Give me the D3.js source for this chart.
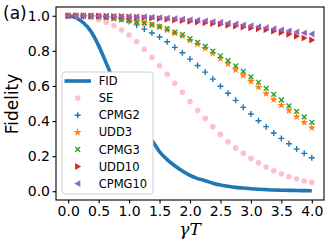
<!DOCTYPE html>
<html>
<head>
<meta charset="utf-8">
<script src="https://cdn.jsdelivr.net/npm/d3@7"></script>
<style>
  body { margin: 0; background: #fff; }
  svg { display: block; }
</style>
</head>
<body>
<script>
const W = 332, H = 249;
const margin = {left: 56, right: 8, top: 7, bottom: 49};

// gamma*T sample points
const tVals = [0, 0.125, 0.25, 0.375, 0.5, 0.625, 0.75, 0.875, 1.0, 1.125, 1.25, 1.375, 1.5, 1.625, 1.75, 1.875,
               2.0, 2.125, 2.25, 2.375, 2.5, 2.625, 2.75, 2.875, 3.0, 3.125, 3.25, 3.375, 3.5, 3.625, 3.75, 3.875, 4.0];

const fid = [1.0, 0.99, 0.96, 0.91, 0.83, 0.73, 0.63, 0.55, 0.47, 0.40, 0.34, 0.29, 0.225, 0.18, 0.145, 0.115,
             0.09, 0.072, 0.06, 0.046, 0.035, 0.028, 0.022, 0.018, 0.014, 0.011, 0.009, 0.007, 0.006, 0.005, 0.004, 0.0035, 0.003];
const se = [1.0, 0.999, 0.995, 0.988, 0.977, 0.963, 0.943, 0.919, 0.890, 0.853, 0.809, 0.763, 0.715, 0.666, 0.615, 0.564,
            0.511, 0.461, 0.415, 0.368, 0.324, 0.282, 0.247, 0.216, 0.187, 0.162, 0.138, 0.117, 0.100, 0.083, 0.070, 0.058, 0.051];
const cpmg2 = [1.0, 1.0, 0.999, 0.998, 0.996, 0.993, 0.989, 0.982, 0.968, 0.948, 0.924, 0.902, 0.879, 0.852, 0.820, 0.789,
               0.753, 0.717, 0.679, 0.639, 0.598, 0.558, 0.518, 0.478, 0.440, 0.402, 0.368, 0.332, 0.301, 0.271, 0.240, 0.216, 0.191];
const udd3 = [1.0, 1.0, 0.999, 0.997, 0.995, 0.991, 0.985, 0.979, 0.972, 0.965, 0.957, 0.947, 0.935, 0.920, 0.901, 0.885,
              0.860, 0.838, 0.814, 0.786, 0.756, 0.726, 0.692, 0.659, 0.626, 0.593, 0.556, 0.522, 0.490, 0.460, 0.424, 0.393, 0.362];
const cpmg3 = [1.0, 1.0, 0.999, 0.997, 0.995, 0.991, 0.986, 0.980, 0.974, 0.967, 0.960, 0.951, 0.940, 0.926, 0.907, 0.892,
               0.869, 0.848, 0.826, 0.799, 0.772, 0.744, 0.714, 0.683, 0.652, 0.621, 0.586, 0.552, 0.520, 0.487, 0.455, 0.424, 0.393];
const udd10 = [1.0, 1.0, 1.0, 0.999, 0.999, 0.998, 0.997, 0.996, 0.994, 0.992, 0.990, 0.987, 0.984, 0.980, 0.976, 0.972,
               0.968, 0.964, 0.960, 0.956, 0.952, 0.946, 0.941, 0.936, 0.931, 0.926, 0.920, 0.912, 0.904, 0.894, 0.884, 0.873, 0.862];
const cpmg10 = [1.0, 1.0, 1.0, 1.0, 0.999, 0.999, 0.998, 0.997, 0.996, 0.995, 0.994, 0.992, 0.990, 0.987, 0.984, 0.981,
                0.978, 0.975, 0.971, 0.967, 0.963, 0.958, 0.953, 0.948, 0.943, 0.938, 0.932, 0.926, 0.920, 0.914, 0.908, 0.902, 0.896];

const xTicks = [0, 0.5, 1, 1.5, 2, 2.5, 3, 3.5, 4];
const yTicks = [0, 0.2, 0.4, 0.6, 0.8, 1.0];

const series = [
  {name: 'SE', vals: se, color: 'pink', shape: 'circle'},
  {name: 'CPMG2', vals: cpmg2, color: '#1f77b4', shape: 'plus'},
  {name: 'UDD3', vals: udd3, color: '#ff7f0e', shape: 'star'},
  {name: 'CPMG3', vals: cpmg3, color: '#2ca02c', shape: 'cross'},
  {name: 'UDD10', vals: udd10, color: '#d62728', shape: 'tright'},
  {name: 'CPMG10', vals: cpmg10, color: '#9467bd', shape: 'tleft'}
];

const x = d3.scaleLinear().domain([-0.2, 4.2]).range([margin.left, W - margin.right]);
const y = d3.scaleLinear().domain([-0.05, 1.05]).range([H - margin.bottom, margin.top]);

const svg = d3.select('body').append('svg').attr('width', W).attr('height', H);

// marker drawing
function drawMarker(g, shape, color) {
  if (shape == 'circle') {
    g.append('circle').attr('r', 2.8).attr('fill', color);
  } else if (shape == 'plus') {
    g.append('path').attr('d', 'M-3,0H3M0,-3V3').attr('stroke', color).attr('stroke-width', 1.4);
  } else if (shape == 'cross') {
    g.append('path').attr('d', 'M-2.4,-2.4L2.4,2.4M-2.4,2.4L2.4,-2.4').attr('stroke', color).attr('stroke-width', 1.4);
  } else if (shape == 'star') {
    g.append('path').attr('d', d3.symbol(d3.symbolStar, 20)()).attr('fill', color);
  } else if (shape == 'tright') {
    g.append('path').attr('d', 'M3.4,0L-2.6,-3.4L-2.6,3.4Z').attr('fill', color);
  } else if (shape == 'tleft') {
    g.append('path').attr('d', 'M-3.4,0L2.6,-3.4L2.6,3.4Z').attr('fill', color);
  }
}

// FID line
const line = d3.line().x((d, i) => x(tVals[i])).y(d => y(d)).curve(d3.curveMonotoneX);
svg.append('path')
  .datum(fid)
  .attr('d', line)
  .attr('fill', 'none')
  .attr('stroke', '#1f77b4')
  .attr('stroke-width', 3.6);

// scatter series
series.forEach(s => {
  svg.append('g').selectAll('g')
    .data(s.vals)
    .enter()
    .append('g')
    .attr('transform', (d, i) => `translate(${x(tVals[i])},${y(d)})`)
    .each(function() { drawMarker(d3.select(this), s.shape, s.color); });
});

// frame
svg.append('rect')
  .attr('x', margin.left).attr('y', margin.top)
  .attr('width', W - margin.left - margin.right)
  .attr('height', H - margin.top - margin.bottom)
  .attr('fill', 'none').attr('stroke', '#000').attr('stroke-width', 1.1);

// axes
const xAxis = svg.append('g')
  .attr('transform', `translate(0,${H - margin.bottom})`)
  .call(d3.axisBottom(x).tickValues(xTicks).tickFormat(d3.format('.1f')).tickSize(3.5).tickPadding(2.5));
const yAxis = svg.append('g')
  .attr('transform', `translate(${margin.left},0)`)
  .call(d3.axisLeft(y).tickValues(yTicks).tickFormat(d3.format('.1f')).tickSize(3.5).tickPadding(2.5));
[xAxis, yAxis].forEach(a => {
  a.select('.domain').remove();
  a.selectAll('line').attr('stroke', '#000').attr('stroke-width', 1.1);
  a.selectAll('text').attr('font-family', 'DejaVu Sans').attr('font-size', 14).attr('fill', '#000');
});

// axis labels
svg.append('text')
  .attr('transform', 'translate(18,104) rotate(-90)')
  .attr('text-anchor', 'middle')
  .attr('font-family', 'DejaVu Sans').attr('font-size', 17)
  .text('Fidelity');
svg.append('text')
  .attr('x', 190).attr('y', 235)
  .attr('text-anchor', 'middle')
  .attr('font-family', 'DejaVu Serif').attr('font-style', 'italic').attr('font-size', 17)
  .text('γT');
svg.append('text')
  .attr('x', 3).attr('y', 19)
  .attr('font-family', 'DejaVu Sans').attr('font-size', 17)
  .text('(a)');

// legend
const leg = svg.append('g');
leg.append('rect')
  .attr('x', 62).attr('y', 72).attr('width', 91).attr('height', 122).attr('rx', 3)
  .attr('fill', '#fff').attr('stroke', '#d0d0d0').attr('stroke-width', 1);
const legItems = ['FID'].concat(series.map(s => s.name));
legItems.forEach((name, i) => {
  const ly = 81 + i * 17.1;
  if (i == 0) {
    leg.append('line').attr('x1', 64.5).attr('x2', 91).attr('y1', ly).attr('y2', ly)
      .attr('stroke', '#1f77b4').attr('stroke-width', 3.6);
  } else {
    const s = series[i - 1];
    const g = leg.append('g').attr('transform', `translate(77.7,${ly})`);
    drawMarker(g, s.shape, s.color);
  }
  leg.append('text')
    .attr('x', 98.7).attr('y', ly)
    .attr('dy', '0.36em')
    .attr('font-family', 'DejaVu Sans').attr('font-size', 11.5)
    .text(name);
});
</script>
</body>
</html>
